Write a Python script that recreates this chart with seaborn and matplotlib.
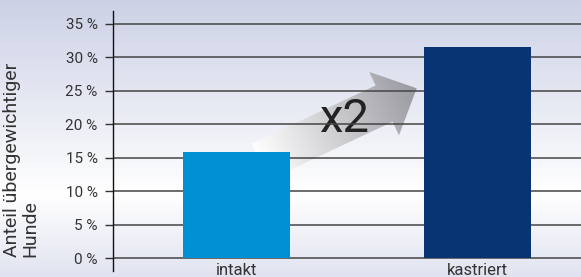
import numpy as np
import pandas as pd
import matplotlib
matplotlib.use("Agg")
import matplotlib.pyplot as plt
import seaborn as sns
from matplotlib.patches import Polygon

# data
categories = ["intakt", "kastriert"]
values = [15.8, 31.6]
bar_colors = ["#0091d5", "#083474"]
y_ticks = [0, 5, 10, 15, 20, 25, 30, 35]
y_label = "Anteil übergewichtiger\nHunde"
factor_text = "x2"

df = pd.DataFrame({"Status": categories, "Anteil": values})

sns.set_theme(style="white")
plt.rcParams["font.family"] = ["Roboto", "DejaVu Sans"]

W, H = 581, 277
fig = plt.figure(figsize=(W / 100, H / 100), dpi=100)

# background layer in pixel coordinates
bg = fig.add_axes([0, 0, 1, 1], zorder=0)
bg.set_xlim(0, W)
bg.set_ylim(H, 0)
bg.axis("off")

# vertical background gradient
stops = np.array([0.0, 0.70, 1.0])
top_c = np.array([0.80, 0.82, 0.90])
mid_c = np.array([1.0, 1.0, 1.0])
bot_c = np.array([0.88, 0.89, 0.94])
yy = np.linspace(0, 1, H)
grad = np.zeros((H, 1, 3))
for k in range(3):
    grad[:, 0, k] = np.interp(yy, stops, [top_c[k], mid_c[k], bot_c[k]])
bg.imshow(grad, extent=[0, W, H, 0], aspect="auto", interpolation="bilinear")

# gradient arrow (decoration)
tip = np.array([416.7, 88.3])
u = np.array([0.905, -0.425])
n = np.array([0.425, 0.905])
length, head_len, head_hw, shaft_hw = 173, 36, 35, 20
tail_c = tip - length * u
head_b = tip - head_len * u
pts = [tail_c - shaft_hw * n, head_b - shaft_hw * n, head_b - head_hw * n, tip,
       head_b + head_hw * n, head_b + shaft_hw * n, tail_c + shaft_hw * n]
arrow = Polygon(pts, closed=True, facecolor="none", edgecolor="none")
bg.add_patch(arrow)
xs, ys = np.meshgrid(np.arange(W) + 0.5, np.arange(H) + 0.5)
t = np.clip(((xs - tail_c[0]) * u[0] + (ys - tail_c[1]) * u[1]) / length, 0, 1)
c0 = np.array([1.0, 1.0, 1.0])
c1 = np.array([0.60, 0.60, 0.63])
arr_img = c0[None, None, :] * (1 - t[..., None]) + c1[None, None, :] * t[..., None]
im = bg.imshow(arr_img, extent=[0, W, H, 0], aspect="auto", interpolation="bilinear")
im.set_clip_path(arrow)
bg.text(344, 119, factor_text, fontsize=34, color="#222222", ha="center", va="center")

# main chart
ax = fig.add_axes([113 / W, 6 / H, 468 / W, 260 / H], zorder=1)
ax.patch.set_alpha(0)
sns.barplot(data=df, x="Status", y="Anteil", hue="Status", palette=bar_colors,
            width=0.444, saturation=1, legend=False, ax=ax, zorder=3,
            linewidth=0, edgecolor="none")

ax.set_xlim(-0.512, 1.430)
ax.set_ylim(-1.94, 36.94)
ax.set_yticks(y_ticks)
ax.set_yticklabels([f"{v} %" for v in y_ticks], fontsize=11, color="#333333")
ax.set_xticks(range(len(categories)))
ax.set_xticklabels(categories, fontsize=12, color="#333333")
ax.tick_params(axis="y", length=6, width=1, color="#333333", pad=5, direction="out", left=True)
ax.tick_params(axis="x", length=0, pad=-6)
ax.yaxis.grid(True, color="#444444", linewidth=1.1)
ax.set_axisbelow(True)
for side in ["top", "right", "bottom"]:
    ax.spines[side].set_visible(False)
ax.spines["left"].set_color("#111111")
ax.spines["left"].set_linewidth(1)
ax.set_xlabel("")
ax.set_ylabel("")

fig.text(3 / W, 0.072, y_label, rotation=90, fontsize=14, color="#333333",
         ha="left", va="bottom", multialignment="left", linespacing=1.05)

fig.savefig("out.png", dpi=100)
